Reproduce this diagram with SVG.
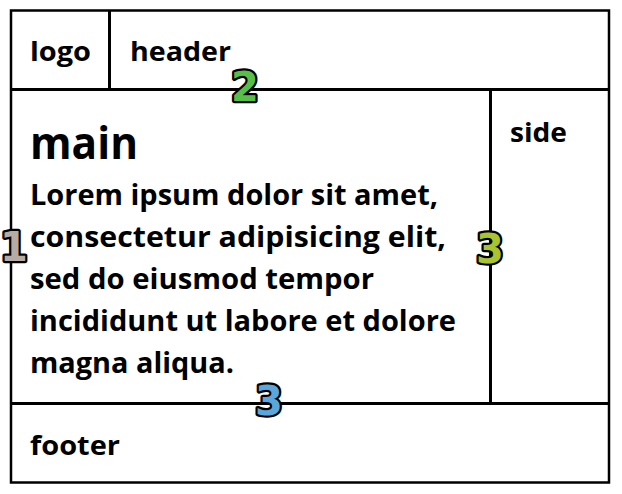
<svg xmlns="http://www.w3.org/2000/svg" width="622" height="494" viewBox="0 0 622 494">
<style>
.t{font-family:"Open Sans","Liberation Sans",sans-serif;font-weight:bold;fill:#000}
.l{font-size:27.5px}
.b{font-size:28.5px}
.n{font-family:"DejaVu Sans",sans-serif;font-weight:bold;font-size:40px;stroke:#000;stroke-width:4.5;stroke-linejoin:round;paint-order:stroke;text-anchor:middle}
.div{stroke:#000;stroke-width:3;fill:none}
</style>
<rect x="0" y="0" width="622" height="494" fill="#fff"/>
<g id="frame"><rect x="11" y="10.5" width="598" height="472" fill="none" stroke="#000" stroke-width="2.5"/></g>
<g id="connectors">
<line class="div" x1="10" y1="89.5" x2="610" y2="89.5"/>
<line class="div" x1="109.5" y1="10" x2="109.5" y2="89"/>
<line class="div" x1="490.5" y1="89" x2="490.5" y2="403"/>
<line class="div" x1="10" y1="403.5" x2="610" y2="403.5"/>
</g>
<g id="logo"><text class="t l" x="30" y="61" textLength="61" lengthAdjust="spacingAndGlyphs">logo</text></g>
<g id="header"><text class="t l" x="130" y="61" textLength="101" lengthAdjust="spacingAndGlyphs">header</text></g>
<g id="side"><text class="t l" x="510" y="142" textLength="57" lengthAdjust="spacingAndGlyphs">side</text></g>
<g id="main">
<text class="t" x="30" y="159" font-size="45" textLength="108" lengthAdjust="spacingAndGlyphs">main</text>
<text class="t b" x="30" y="205" textLength="408" lengthAdjust="spacingAndGlyphs">Lorem ipsum dolor sit amet,</text>
<text class="t b" x="30" y="247" textLength="416" lengthAdjust="spacingAndGlyphs">consectetur adipisicing elit,</text>
<text class="t b" x="30" y="289" textLength="344" lengthAdjust="spacingAndGlyphs">sed do eiusmod tempor</text>
<text class="t b" x="30" y="331" textLength="426" lengthAdjust="spacingAndGlyphs">incididunt ut labore et dolore</text>
<text class="t b" x="30" y="373" textLength="204" lengthAdjust="spacingAndGlyphs">magna aliqua.</text>
</g>
<g id="footer"><text class="t l" x="30" y="455" textLength="90" lengthAdjust="spacingAndGlyphs">footer</text></g>
<g id="markers">
<text class="n" x="245" y="101" fill="#55bf47">2</text>
<text class="n" x="14" y="261" fill="#b5aca8">1</text>
<text class="n" x="490" y="263" fill="#a9c42e">3</text>
<text class="n" x="269" y="415" fill="#5aa7dd">3</text>
</g>
</svg>
